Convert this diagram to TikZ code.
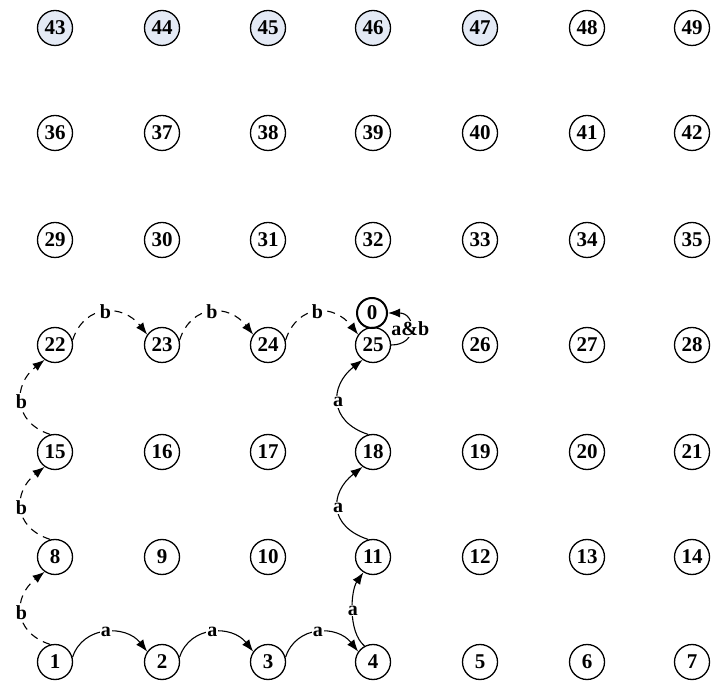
\documentclass[tikz,border=0pt]{standalone}
\usepackage{fontspec}
\setmainfont{Liberation Serif}
\usetikzlibrary{arrows.meta}
\definecolor{hiblue}{RGB}{228,234,245}
\begin{document}
\begin{tikzpicture}[x=1pt,y=1pt,
  st/.style={circle,draw,line width=1.3pt,minimum size=35pt,inner sep=0pt,
    font=\bfseries\fontsize{21}{21}\selectfont},
  hi/.style={st,fill=hiblue},
  tr/.style={line width=1.1pt,-{Latex[length=12pt,width=9pt]}},
  dtr/.style={tr,dash pattern=on 8pt off 6pt},
  lab/.style={fill=white,inner sep=1pt,font=\bfseries\fontsize{20}{20}\selectfont},
  hor/.style={to path={(\tikztostart.15) .. controls +(72:#1) and +(128:#1) .. (\tikztotarget.145) \tikztonodes}},
  ver/.style={to path={(\tikztostart.105) .. controls +(162:#1) and +(218:#1) .. (\tikztotarget.235) \tikztonodes}}]
\useasboundingbox (0,0) rectangle (714,688);
\foreach \y [count=\i from 0] in {26,131,236,343,448,555,660}{
  \foreach \x [count=\j from 1] in {55,162,268,373,480,587,692}{
    \pgfmathtruncatemacro\k{\i*7+\j}
    \ifnum\k>42\relax\ifnum\k<48\relax\def\sty{hi}\else\def\sty{st}\fi\else\def\sty{st}\fi
    \node[\sty] (n\k) at (\x,\y) {\k};
  }}
\node[st,line width=2pt,minimum size=30pt] (n0) at (372,375) {0};
% a transitions
\draw[tr] (n1) to[hor=34] node[lab]{a} (n2);
\draw[tr] (n2) to[hor=34] node[lab]{a} (n3);
\draw[tr] (n3) to[hor=34] node[lab]{a} (n4);
\draw[tr] (n4.118) .. controls +(140:22) and +(235:22) .. node[lab]{a} (n11.238);
\draw[tr] (n11) to[ver=42] node[lab]{a} (n18);
\draw[tr] (n18) to[ver=42] node[lab]{a} (n25);
% b transitions
\draw[dtr] (n1) to[ver=40] node[lab]{b} (n8);
\draw[dtr] (n8) to[ver=40] node[lab]{b} (n15);
\draw[dtr] (n15) to[ver=40] node[lab]{b} (n22);
\draw[dtr] (n22) to[hor=39] node[lab]{b} (n23);
\draw[dtr] (n23) to[hor=39] node[lab]{b} (n24);
\draw[dtr] (n24) to[hor=39] node[lab]{b} (n25);
% a&b
\draw[tr] (n25) to[out=0,in=0,looseness=2.2] node[lab]{a\&b} (n0);
\end{tikzpicture}
\end{document}
